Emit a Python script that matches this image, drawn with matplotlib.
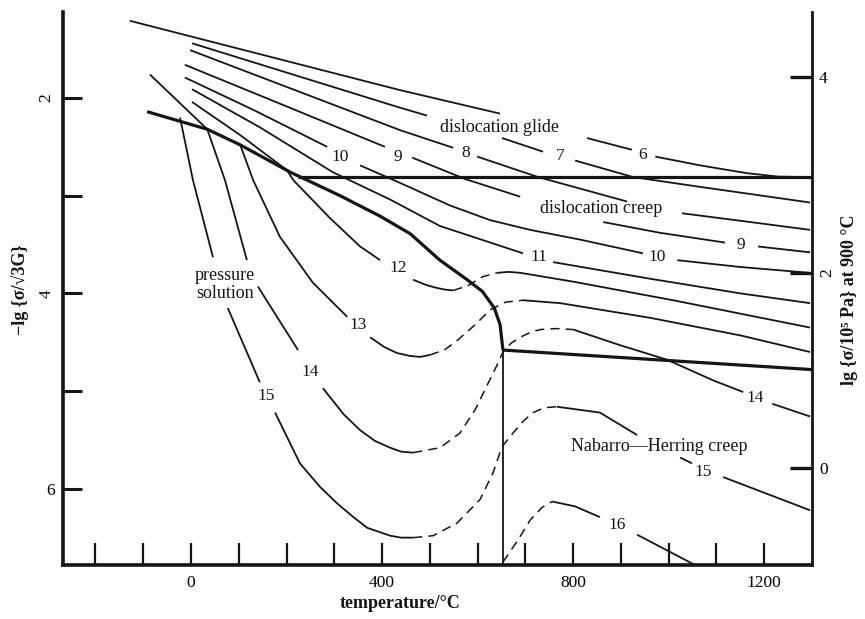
import matplotlib
matplotlib.use("Agg")
import matplotlib.pyplot as plt
import numpy as np

nan = np.nan
SERIF = ["Liberation Serif", "DejaVu Serif"]
INK = "#151515"

# ---------------- axes data ----------------
temp_ticks = list(range(-200, 1300, 100))
temp_labeled = [0, 400, 800, 1200]
left_ticks = [2, 3, 4, 5, 6]
left_labeled = [2, 4, 6]
right_ticks = [0, 2, 4]
right_offset = 5.79          # lg(sigma/1e5 Pa) = 5.79 - (-lg(sigma/sqrt3 G))
T_range = (-268, 1300)
L_range = (6.78, 1.12)

# ---------------- field boundaries ----------------
ps_boundary_T = [-92, 34, 103, 208, 312, 396, 459, 521, 578, 610, 635, 647, 653]
ps_boundary_L = [2.14, 2.32, 2.48, 2.76, 3.00, 3.21, 3.39, 3.66, 3.86, 3.98, 4.15, 4.32, 4.58]
glide_boundary_T = [225, 1300]
glide_boundary_L = [2.81, 2.81]
nh_boundary_T = [653, 1300]
nh_boundary_L = [4.58, 4.78]
vertical_T = [653, 653]
vertical_L = [4.58, 6.78]

# ---------------- strain-rate contours (-lg strain rate) ----------------
c6_T = [-128, 438, 647, nan, 829, 923, nan, 972, 1066, 1164, 1230, 1296]
c6_L = [1.21, 1.92, 2.16, nan, 2.41, 2.53, nan, 2.60, 2.69, 2.77, 2.805, 2.81]

c7_T = [2, 438, 494, nan, 651, 737, nan, 804, 926, 1066, 1296]
c7_L = [1.44, 2.10, 2.18, nan, 2.41, 2.55, nan, 2.64, 2.81, 2.91, 3.07]

c8_T = [-2, 438, 549, nan, 599, 727, 913, nan, 1028, 1171, 1296]
c8_L = [1.51, 2.33, 2.51, nan, 2.60, 2.81, 3.06, nan, 3.18, 3.27, 3.35]

c9_T = [-13, 197, 406, nan, 463, 574, 689, nan, 863, 982, 1118, nan, 1187, 1296]
c9_L = [1.66, 2.08, 2.50, nan, 2.61, 2.83, 3.01, nan, 3.27, 3.38, 3.48, nan, 3.52, 3.58]

c10_T = [-13, 134, 285, nan, 354, 438, 542, 626, 710, 815, 946, nan, 1018, 1150, 1296]
c10_L = [1.79, 2.13, 2.50, nan, 2.69, 2.87, 3.10, 3.25, 3.35, 3.45, 3.59, nan, 3.66, 3.73, 3.79]

c11_T = [2, 144, 297, 417, 521, 695, nan, 758, 961, 1150, 1296]
c11_L = [1.91, 2.30, 2.76, 3.04, 3.31, 3.59, nan, 3.68, 3.85, 4.00, 4.10]

c12_T = [2, 103, 201, 214, 291, 354, 396, nan, 465, 490, 511, 530, 549, nan,
         640, 665, 690, 800, 1009, 1296]
c12_L = [2.04, 2.38, 2.74, 2.84, 3.23, 3.52, 3.66, nan, 3.86, 3.91, 3.94, 3.96, 3.97, nan,
         3.79, 3.78, 3.79, 3.88, 4.07, 4.35]
c12_dash_T = [549, 580, 610, 640]
c12_dash_L = [3.97, 3.92, 3.83, 3.79]

c13_T = [103, 130, 186, 255, 327, nan, 375, 405, 431, 458, 480, 500, nan,
         695, 773, 961, 1150, 1296]
c13_L = [2.48, 2.84, 3.42, 3.89, 4.24, nan, 4.45, 4.55, 4.61, 4.64, 4.65, 4.63, nan,
         4.07, 4.10, 4.25, 4.43, 4.60]
c13_dash_T = [500, 530, 553, 595, 626, 658, 695]
c13_dash_L = [4.63, 4.58, 4.50, 4.32, 4.17, 4.09, 4.07]

c14_T = [-86, 34, 71, 117, nan, 140, 224, nan, 276, 320, 354, 385, 417, 440, 465,
         nan, 800, 898, 997, 1093, 1156, nan, 1217, 1296]
c14_L = [1.76, 2.32, 2.84, 3.66, nan, 3.93, 4.58, nan, 4.97, 5.24, 5.40, 5.51, 5.58, 5.62, 5.63,
         nan, 4.37, 4.53, 4.68, 4.89, 5.01, nan, 5.13, 5.26]
c14_dash_T = [465, 521, 563, 595, 620, 641, 653, 670, 689, 710, 731, 765, 800]
c14_dash_L = [5.63, 5.58, 5.43, 5.19, 4.94, 4.73, 4.60, 4.51, 4.45, 4.40, 4.37, 4.36, 4.37]

c15_T = [-23, 4, 46, nan, 77, 144, nan, 176, 228, 270, 306, 340, 369, 417, 440, 465,
         nan, 766, 856, 934, nan, 1024, 1049, nan, 1114, 1296]
c15_L = [2.20, 2.84, 3.63, nan, 4.15, 4.91, nan, 5.22, 5.74, 5.98, 6.15, 6.29, 6.40, 6.48, 6.50, 6.50,
         nan, 5.16, 5.22, 5.45, nan, 5.68, 5.74, nan, 5.88, 6.22]
c15_dash_T = [465, 507, 557, 605, 632, 651, 674, 695, 716, 740, 766]
c15_dash_L = [6.50, 6.48, 6.35, 6.11, 5.84, 5.57, 5.43, 5.31, 5.22, 5.17, 5.16]

c16_T = [756, 804, 856, nan, 934, 1055]
c16_L = [6.13, 6.18, 6.29, nan, 6.47, 6.78]
c16_dash_T = [653, 685, 710, 735, 756]
c16_dash_L = [6.75, 6.52, 6.32, 6.19, 6.13]

# contour labels
label_text = ["6", "7", "8", "9", "10", "9", "10", "11", "12", "13", "14", "15", "14", "15", "16"]
label_T = [946, 773, 574, 433, 312, 1152, 976, 729, 433, 350, 249, 157, 1181, 1072, 892]
label_L = [2.58, 2.59, 2.56, 2.60, 2.60, 3.50, 3.63, 3.63, 3.74, 4.32, 4.80, 5.05, 5.07, 5.83, 6.37]

# field names
field_text = ["dislocation glide", "dislocation creep", "pressure\nsolution", "Nabarro\u2014Herring creep"]
field_T = [645, 859, 71, 980]
field_L = [2.30, 3.13, 3.91, 5.57]

# ---------------- figure ----------------
W, H = 865, 619
fig = plt.figure(figsize=(W / 100, H / 100), dpi=100)
ax = fig.add_axes([63 / W, (H - 565) / H, (812 - 63) / W, (565 - 12) / H])
ax.set_xlim(*T_range)
ax.set_ylim(*L_range)

LW = 1.3
solid_sets = [(c6_T, c6_L), (c7_T, c7_L), (c8_T, c8_L), (c9_T, c9_L), (c10_T, c10_L),
              (c11_T, c11_L), (c12_T, c12_L), (c13_T, c13_L), (c14_T, c14_L),
              (c15_T, c15_L), (c16_T, c16_L)]
for T, L in solid_sets:
    ax.plot(T, L, color=INK, lw=LW, solid_capstyle="butt", solid_joinstyle="round")

dash_sets = [(c12_dash_T, c12_dash_L), (c13_dash_T, c13_dash_L), (c14_dash_T, c14_dash_L),
             (c15_dash_T, c15_dash_L), (c16_dash_T, c16_dash_L)]
for T, L in dash_sets:
    ax.plot(T, L, color=INK, lw=1.1, linestyle=(0, (6, 4)))

# boundaries
ax.plot(ps_boundary_T, ps_boundary_L, color=INK, lw=2.3, solid_capstyle="butt",
        solid_joinstyle="round")
ax.plot(glide_boundary_T, glide_boundary_L, color=INK, lw=2.3, solid_capstyle="butt")
ax.plot(nh_boundary_T, nh_boundary_L, color=INK, lw=2.3, solid_capstyle="butt")
ax.plot(vertical_T, vertical_L, color=INK, lw=1.3)

for s, t, l in zip(label_text, label_T, label_L):
    ax.text(t, l, s, ha="center", va="center", fontsize=12.5, family=SERIF, color=INK)
for s, t, l in zip(field_text, field_T, field_L):
    ax.text(t, l, s, ha="center", va="center", fontsize=13, family=SERIF, color=INK,
            linespacing=1.05)

# spines
ax.spines["top"].set_visible(False)
ax.spines["right"].set_visible(False)
ax.spines["left"].set_linewidth(2.6)
ax.spines["bottom"].set_linewidth(2.6)
ax.spines["left"].set_color(INK)
ax.spines["bottom"].set_color(INK)

ax.set_xticks(temp_ticks)
ax.set_xticklabels([str(t) if t in temp_labeled else "" for t in temp_ticks],
                   family=SERIF, fontsize=12.5)
ax.tick_params(axis="x", direction="in", length=16, width=1.6, color=INK, pad=7)

ax.set_yticks(left_ticks)
ax.set_yticklabels([str(t) if t in left_labeled else "" for t in left_ticks],
                   family=SERIF, fontsize=12.5)
ax.tick_params(axis="y", direction="in", length=14, width=2.2, color=INK, pad=6)

ax2 = ax.twinx()
ax2.set_ylim(right_offset - L_range[0], right_offset - L_range[1])
for sp in ["top", "left", "bottom"]:
    ax2.spines[sp].set_visible(False)
ax2.spines["right"].set_linewidth(2.0)
ax2.spines["right"].set_color(INK)
ax2.set_yticks(right_ticks)
ax2.set_yticklabels([str(t) for t in right_ticks], family=SERIF, fontsize=12.5)
ax2.tick_params(axis="y", direction="in", length=16, width=2.4, color=INK, pad=5)

# rotated tick labels like the scan
for lbl in ax.get_yticklabels():
    if lbl.get_text() in ("2", "4"):
        lbl.set_rotation(90)
        lbl.set_va("center")
for lbl in ax2.get_yticklabels():
    if lbl.get_text() == "2":
        lbl.set_rotation(90)
        lbl.set_va("center")

# axis titles
fig.text(400 / W, 1 - 603 / H, "temperature/\u00b0C", ha="center", va="center",
         family=SERIF, fontsize=13, fontweight="bold", color=INK)
fig.text(20 / W, 1 - 290 / H, "\u2212lg {\u03c3/\u221a3G}", ha="center", va="center",
         rotation=90, family=SERIF, fontsize=13, fontweight="bold", color=INK)
fig.text(850 / W, 1 - 300 / H, "lg {\u03c3/10\u2075 Pa} at 900 \u00b0C", ha="center", va="center",
         rotation=90, family=SERIF, fontsize=13, fontweight="bold", color=INK)

fig.savefig("out.png", dpi=100, facecolor="white")
